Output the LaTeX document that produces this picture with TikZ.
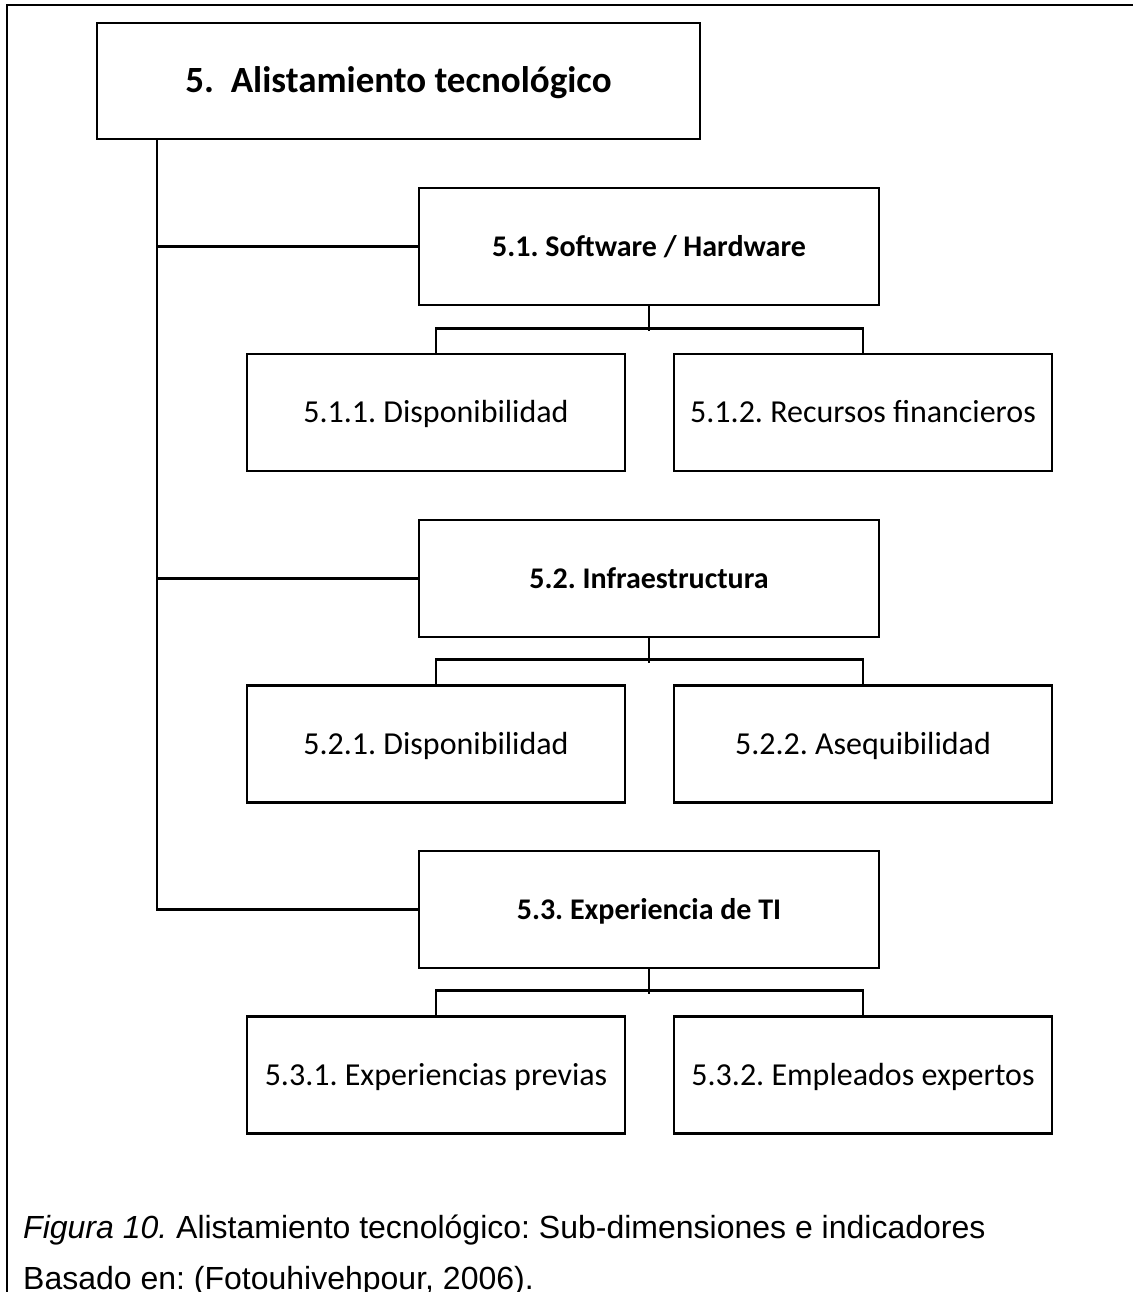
\documentclass[tikz,border=0pt]{standalone}
\usepackage{fontspec}
\setmainfont{Carlito}
\newfontfamily\capfont{Liberation Sans}
\frenchspacing
\begin{document}
\begin{tikzpicture}[x=1pt,y=-1pt,
  line/.style={line width=2.6pt},
  box/.style={draw, line width=2.6pt, rectangle, inner sep=0pt, align=center,
    text depth=0pt},
  leaf/.style={box, minimum width=378pt, minimum height=117pt,
    text height=20.2pt, font=\fontsize{32}{38}\selectfont},
  head/.style={box, minimum width=460pt, minimum height=117pt,
    text height=19pt, font=\bfseries\fontsize{30}{36}\selectfont},
  caption/.style={anchor=base west, inner sep=0pt,
    font=\capfont\fontsize{32}{38}\selectfont}]
\useasboundingbox (0,0) rectangle (1133,1292);
\fill[white] (0,0) rectangle (1133,1292);
% outer frame
\draw[line] (7,1292) -- (7,5) -- (1133,5);

% root
\node[box, minimum width=603pt, minimum height=116pt, text height=23.4pt,
  font=\bfseries\fontsize{37}{44}\selectfont] (top) at (398.5,81)
  {5.\ \ Alistamiento tecnológico};

% sub-dimensions and indicators
\node[head] (p1) at (649,246.5) {5.1. Software / Hardware};
\node[leaf] (c11) at (436,412.5) {5.1.1. Disponibilidad};
\node[leaf] (c12) at (863,412.5) {5.1.2. Recursos financieros};

\node[head] (p2) at (649,578.5) {5.2. Infraestructura};
\node[leaf] (c21) at (436,744) {5.2.1. Disponibilidad};
\node[leaf] (c22) at (863,744) {5.2.2. Asequibilidad};

\node[head] (p3) at (649,909.5) {5.3. Experiencia de TI};
\node[leaf] (c31) at (436,1075) {5.3.1. Experiencias previas};
\node[leaf] (c32) at (863,1075) {5.3.2. Empleados expertos};

% trunk and branches
\coordinate (trunk) at (157,0);
\draw[line] (top.south -| trunk) -- (trunk |- p3.west) -- (p3.west);
\draw[line] (trunk |- p1.west) -- (p1.west);
\draw[line] (trunk |- p2.west) -- (p2.west);

% parent-to-children buses
\foreach \p/\a/\b in {p1/c11/c12, p2/c21/c22, p3/c31/c32}{
  \draw[line] (\p.south) -- ++(0,24.5);
  \draw[line] (\a.north) -- ++(0,-24.5) -| (\b.north);
}

% caption
\node[caption] (cap1) at (23,1238)
  {\textit{Figura 10.} Alistamiento tecnológico: Sub-dimensiones e indicadores};
\node[caption] (cap2) at (23,1289) {Basado en: (Fotouhivehpour, 2006).};
\end{tikzpicture}
\end{document}
